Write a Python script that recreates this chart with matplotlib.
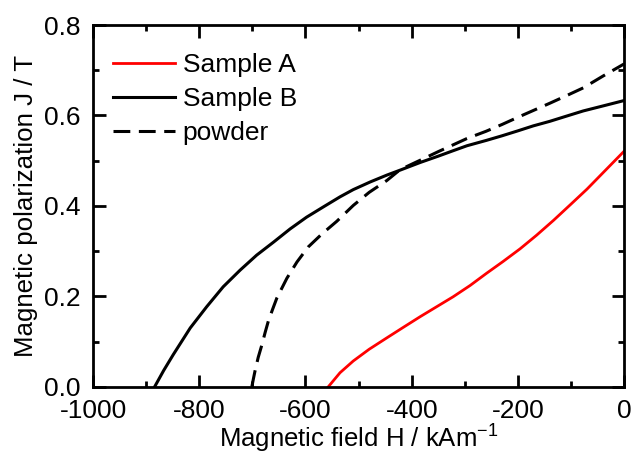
import matplotlib
matplotlib.use('Agg')
import matplotlib.pyplot as plt

plt.rcParams['font.family'] = ['Liberation Sans', 'DejaVu Sans']
plt.rcParams['axes.unicode_minus'] = False
plt.rcParams['mathtext.default'] = 'regular'

# Sample A (red)
h_a = [-557, -535, -510, -480, -447, -415, -384, -353, -322, -290, -259, -228, -196,
       -165, -133, -100, -70, -35, 0]
j_a = [0.0, 0.031, 0.057, 0.083, 0.108, 0.132, 0.155, 0.177, 0.199, 0.224, 0.251, 0.277, 0.305,
       0.335, 0.368, 0.404, 0.437, 0.479, 0.521]

# Sample B (solid black)
h_b = [-884, -867, -849, -817, -786, -755, -723, -692, -660, -629, -598, -566, -535,
       -510, -478, -447, -422, -384, -350, -322, -296, -259, -230, -200, -171, -140,
       -110, -77, -40, 0]
j_b = [0.0, 0.036, 0.071, 0.130, 0.177, 0.221, 0.258, 0.291, 0.320, 0.349, 0.375, 0.398, 0.42,
       0.436, 0.453, 0.468, 0.479, 0.496, 0.51, 0.522, 0.533, 0.545, 0.555, 0.566, 0.577, 0.587,
       0.598, 0.61, 0.621, 0.633]

# powder (dashed)
h_p = [-701, -698, -695, -689, -682, -676, -670, -662, -654, -635, -616, -595, -569,
       -541, -510, -480, -447, -422, -384, -350, -322, -296, -260, -230, -200, -171,
       -140, -110, -77, -40, 0]
j_p = [0.0, 0.018, 0.035, 0.065, 0.093, 0.12, 0.145, 0.171, 0.196, 0.240, 0.276, 0.309, 0.338,
       0.366, 0.401, 0.430, 0.456, 0.480, 0.501, 0.520, 0.535, 0.549, 0.565, 0.580, 0.596, 0.611,
       0.627, 0.643, 0.661, 0.687, 0.714]

fig = plt.figure(figsize=(6.33, 4.55), dpi=100)
ax = fig.add_axes([0.147, 0.15, 0.839, 0.795])

ax.plot(h_a, j_a, color='#ff0000', lw=2.0, label='Sample A')
ax.plot(h_b, j_b, color='black', lw=2.2, label='Sample B')
ax.plot(h_p, j_p, color='black', lw=2.2, ls=(0, (5.5, 2.8)), label='powder')

ax.set_xlim(-1000, 0)
ax.set_ylim(0, 0.8)
ax.set_xticks([-1000, -800, -600, -400, -200, 0])
ax.set_xticks(range(-900, 0, 200), minor=True)
ax.set_yticks([0.0, 0.2, 0.4, 0.6, 0.8])
ax.set_yticks([0.1, 0.3, 0.5, 0.7], minor=True)
ax.set_yticklabels(['0.0', '0.2', '0.4', '0.6', '0.8'])

ax.tick_params(which='both', direction='in', top=True, right=True, width=2.0, labelsize=19)
ax.tick_params(which='major', length=9)
ax.tick_params(which='minor', length=4.5)
ax.tick_params(axis='x', which='major', pad=9)
ax.tick_params(axis='y', which='major', pad=9)
for s in ax.spines.values():
    s.set_linewidth(2.0)

ax.set_xlabel('Magnetic field H / kAm$^{-1}$', fontsize=18.5, labelpad=0)
ax.set_ylabel('Magnetic polarization J / T', fontsize=18.6, labelpad=4)

ax.legend(loc='upper left', frameon=False, fontsize=19, handlelength=2.35,
          handletextpad=0.3, labelspacing=0.38, borderaxespad=0.35, bbox_to_anchor=(0.0, 0.978))

fig.savefig('out.png', dpi=100)
